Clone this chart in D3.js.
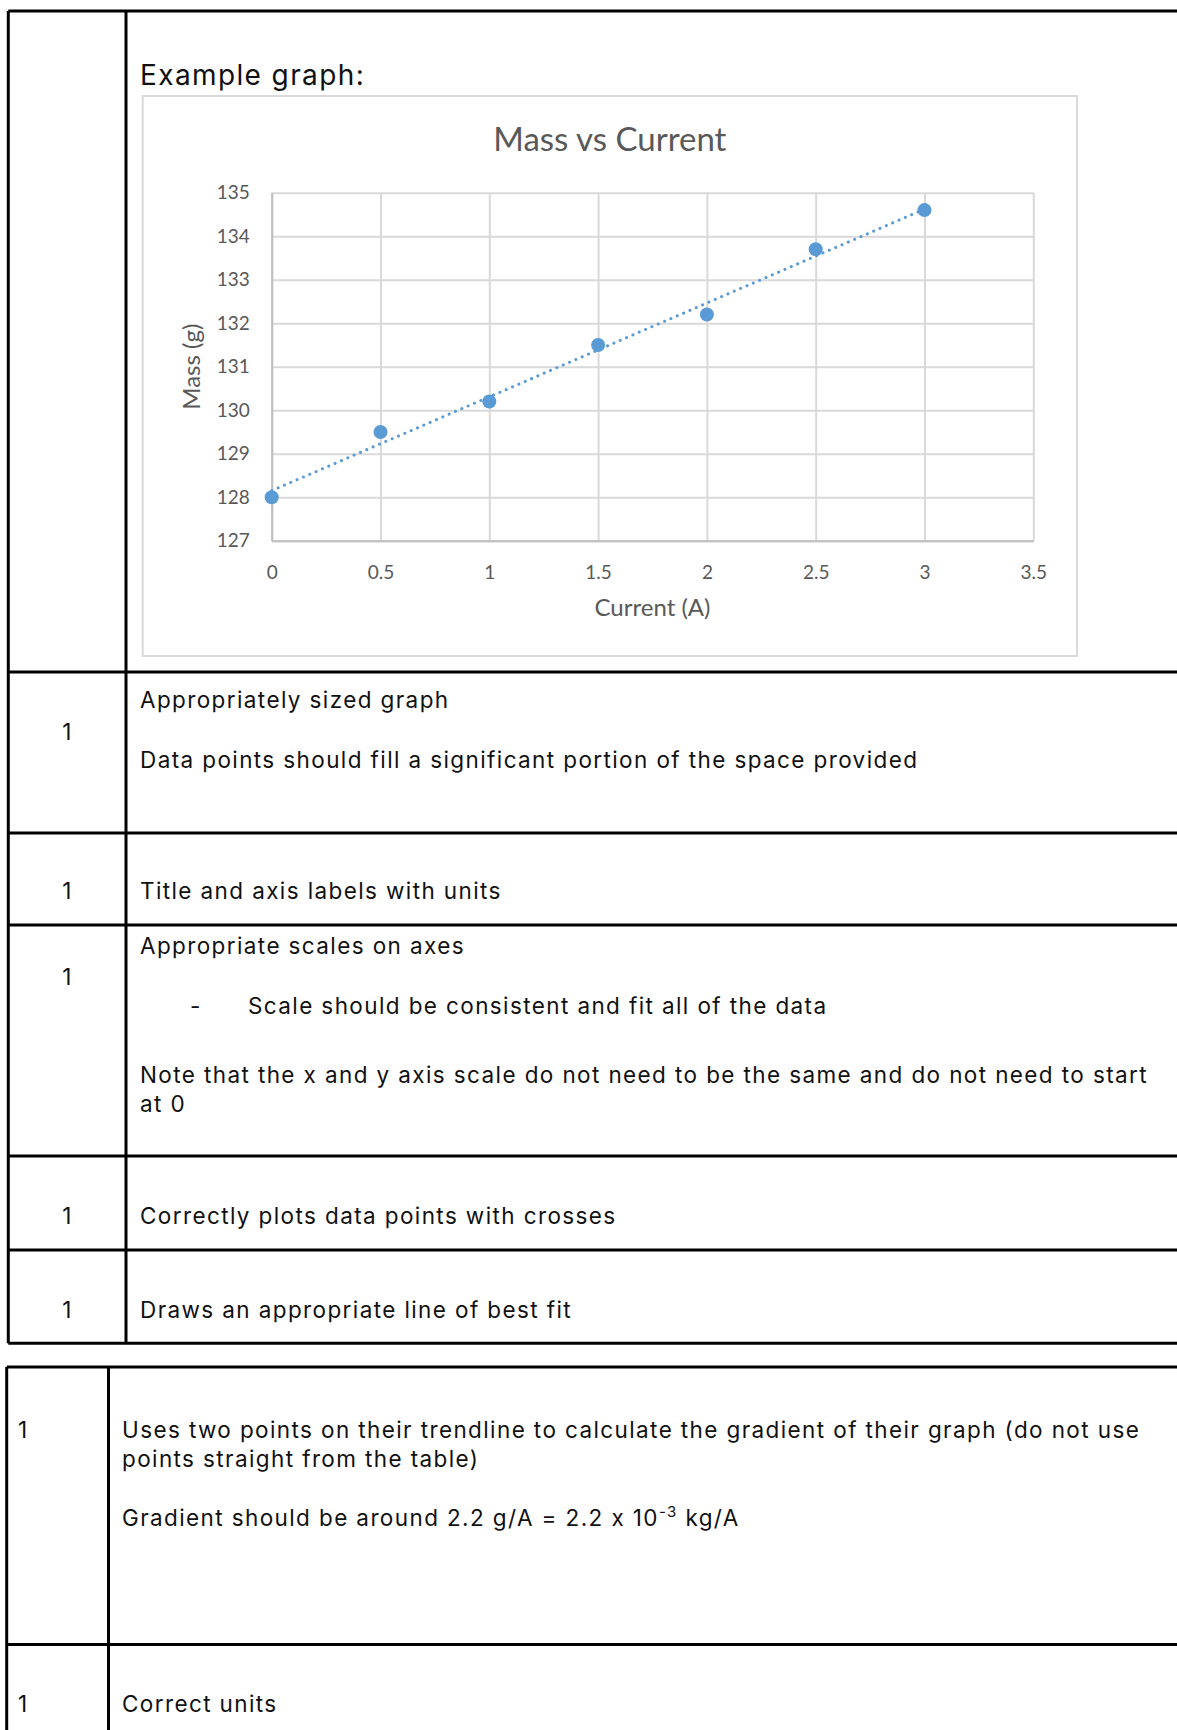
<!DOCTYPE html>
<html>
<head>
<meta charset="utf-8">
<script src="https://cdn.jsdelivr.net/npm/d3@7"></script>
<style>
  body { margin: 0; background: #fff; }
  svg { display: block; }
</style>
</head>
<body>
<div id="page"></div>
<script>
// data
const current = [0, 0.5, 1, 1.5, 2, 2.5, 3];
const mass = [128, 129.5, 130.2, 131.5, 132.2, 133.7, 134.6];
const xTicks = [0, 0.5, 1, 1.5, 2, 2.5, 3, 3.5];
const yTicks = [127, 128, 129, 130, 131, 132, 133, 134, 135];

// marking scheme rows (text of the table)
const rowMarks = ['1', '1', '1', '1', '1'];
const bodyFont = 'Inter, "Open Sans", sans-serif';
const chartFont = 'Lato, sans-serif';
const bodySize = 22.5;

const W = 1177, H = 1730;
const svg = d3.select('#page').append('svg').attr('width', W).attr('height', H);

//---------- table 1 grid ----------
const t1 = { left: 8.3, col: 126, top: 11, rows: [672, 833, 925, 1156, 1250, 1343.3] };
const lines = svg.append('g').attr('stroke', '#000').attr('stroke-width', 3);
lines.append('line').attr('x1', t1.left).attr('x2', W).attr('y1', t1.top).attr('y2', t1.top);
t1.rows.forEach((y) => {
	lines.append('line').attr('x1', t1.left).attr('x2', W).attr('y1', y).attr('y2', y);
});
lines.append('line').attr('x1', t1.left).attr('x2', t1.left).attr('y1', t1.top).attr('y2', 1343.3);
lines.append('line').attr('x1', t1.col).attr('x2', t1.col).attr('y1', t1.top).attr('y2', 1343.3);

//---------- table 2 grid ----------
const t2 = { left: 6.7, col: 108.5, top: 1367, row: 1644.5 };
lines.append('line').attr('x1', t2.left).attr('x2', W).attr('y1', t2.top).attr('y2', t2.top);
lines.append('line').attr('x1', t2.left).attr('x2', W).attr('y1', t2.row).attr('y2', t2.row);
lines.append('line').attr('x1', t2.left).attr('x2', t2.left).attr('y1', t2.top).attr('y2', H);
lines.append('line').attr('x1', t2.col).attr('x2', t2.col).attr('y1', t2.top).attr('y2', H);

//---------- table text ----------
const txt = svg.append('g')
	.attr('font-family', bodyFont)
	.attr('font-size', bodySize)
	.attr('fill', '#111')
	.style('font-feature-settings', '"calt" 0');
function addText(x, y, s, anchor) {
	return txt.append('text').attr('x', x).attr('y', y).attr('text-anchor', anchor || 'start').text(s);
}
addText(140, 85, 'Example graph:').attr('font-size', 28);

const markYs = [740, 899, 985, 1224, 1318];
rowMarks.forEach((m, i) => addText(67.5, markYs[i], m, 'middle'));

addText(140, 708, 'Appropriately sized graph');
addText(140, 768, 'Data points should fill a significant portion of the space provided');
addText(140, 899, 'Title and axis labels with units');
addText(140, 954, 'Appropriate scales on axes');
addText(190, 1014, '-');
addText(248, 1014, 'Scale should be consistent and fit all of the data');
const noteLine = addText(140, 1083, 'Note that the x and y axis scale do not need to be the same and do not need to start');
addText(140, 1112, 'at 0');
addText(140, 1224, 'Correctly plots data points with crosses');
addText(140, 1318, 'Draws an appropriate line of best fit');

addText(18, 1438, '1');
addText(122, 1438, 'Uses two points on their trendline to calculate the gradient of their graph (do not use');
addText(122, 1467, 'points straight from the table)');
const grad = addText(122, 1526, 'Gradient should be around 2.2 g/A = 2.2 x 10');
grad.append('tspan').attr('dy', -9).attr('font-size', 15).text('-3');
grad.append('tspan').attr('dy', 9).text(' kg/A');
addText(18, 1712, '1');
addText(122, 1712, 'Correct units');

// the document font is wider than Inter, so open up the tracking a little to match
const noteStr = noteLine.text();
const spread = (1008 - noteLine.node().getComputedTextLength()) / noteStr.length / bodySize;
txt.attr('letter-spacing', `${Math.max(0, spread)}em`);

//---------- chart ----------
const frame = { left: 142.7, top: 96, right: 1077, bottom: 656 };
svg.append('rect')
	.attr('x', frame.left).attr('y', frame.top)
	.attr('width', frame.right - frame.left).attr('height', frame.bottom - frame.top)
	.attr('fill', '#fff').attr('stroke', '#d9d9d9').attr('stroke-width', 2);

const plot = { left: 271.7, right: 1033.3, top: 192.7, bottom: 540.7 };
const x = d3.scaleLinear().domain([0, 3.5]).range([plot.left, plot.right]);
const y = d3.scaleLinear().domain([127, 135]).range([plot.bottom, plot.top]);

const chart = svg.append('g').attr('font-family', chartFont).attr('fill', '#595959');

// gridlines
chart.append('g')
	.attr('transform', `translate(0, ${plot.bottom})`)
	.call(d3.axisBottom(x).tickValues(xTicks).tickSize(-(plot.bottom - plot.top)).tickFormat(''))
	.call((g) => g.select('.domain').remove())
	.call((g) => g.selectAll('line').attr('stroke', '#d9d9d9').attr('stroke-width', 2));
chart.append('g')
	.attr('transform', `translate(${plot.left}, 0)`)
	.call(d3.axisLeft(y).tickValues(yTicks).tickSize(-(plot.right - plot.left)).tickFormat(''))
	.call((g) => g.select('.domain').remove())
	.call((g) => g.selectAll('line').attr('stroke', '#d9d9d9').attr('stroke-width', 2));

// axis lines + labels
const xAxis = chart.append('g')
	.attr('transform', `translate(0, ${plot.bottom})`)
	.call(d3.axisBottom(x).tickValues(xTicks).tickSize(0).tickFormat(d3.format('')));
xAxis.select('.domain').attr('stroke', '#bfbfbf').attr('stroke-width', 2);
xAxis.selectAll('text').attr('font-size', 19).attr('fill', '#595959').attr('font-family', chartFont)
	.attr('dy', 0).attr('y', 38);

const yAxis = chart.append('g')
	.attr('transform', `translate(${plot.left}, 0)`)
	.call(d3.axisLeft(y).tickValues(yTicks).tickSize(0).tickPadding(22).tickFormat(d3.format('d')));
yAxis.select('.domain').attr('stroke', '#bfbfbf').attr('stroke-width', 2);
yAxis.selectAll('text').attr('font-size', 19).attr('fill', '#595959').attr('font-family', chartFont);

// title + axis titles
chart.append('text')
	.attr('x', (frame.left + frame.right) / 2).attr('y', 150.7)
	.attr('text-anchor', 'middle').attr('font-size', 33)
	.text('Mass vs Current');
chart.append('text')
	.attr('x', (plot.left + plot.right) / 2).attr('y', 616)
	.attr('text-anchor', 'middle').attr('font-size', 24)
	.text('Current (A)');
chart.append('text')
	.attr('transform', `translate(200, ${(plot.top + plot.bottom) / 2}) rotate(-90)`)
	.attr('text-anchor', 'middle').attr('font-size', 24)
	.text('Mass (g)');

// linear trendline (least squares through the points)
const mx = d3.mean(current), my = d3.mean(mass);
const slope = d3.sum(current, (c, i) => (c - mx) * (mass[i] - my)) / d3.sum(current, (c) => (c - mx) ** 2);
const icpt = my - slope * mx;
const xr = [current[0], current[current.length - 1]];
chart.append('line')
	.attr('x1', x(xr[0])).attr('y1', y(icpt + slope * xr[0]))
	.attr('x2', x(xr[1])).attr('y2', y(icpt + slope * xr[1]))
	.attr('stroke', '#5b9bd5').attr('stroke-width', 3)
	.attr('stroke-linecap', 'round').attr('stroke-dasharray', '0.1 6.8');

// markers
chart.append('g').selectAll('circle')
	.data(current)
	.join('circle')
	.attr('cx', (d) => x(d))
	.attr('cy', (d, i) => y(mass[i]))
	.attr('r', 7)
	.attr('fill', '#5b9bd5');
</script>
</body>
</html>
